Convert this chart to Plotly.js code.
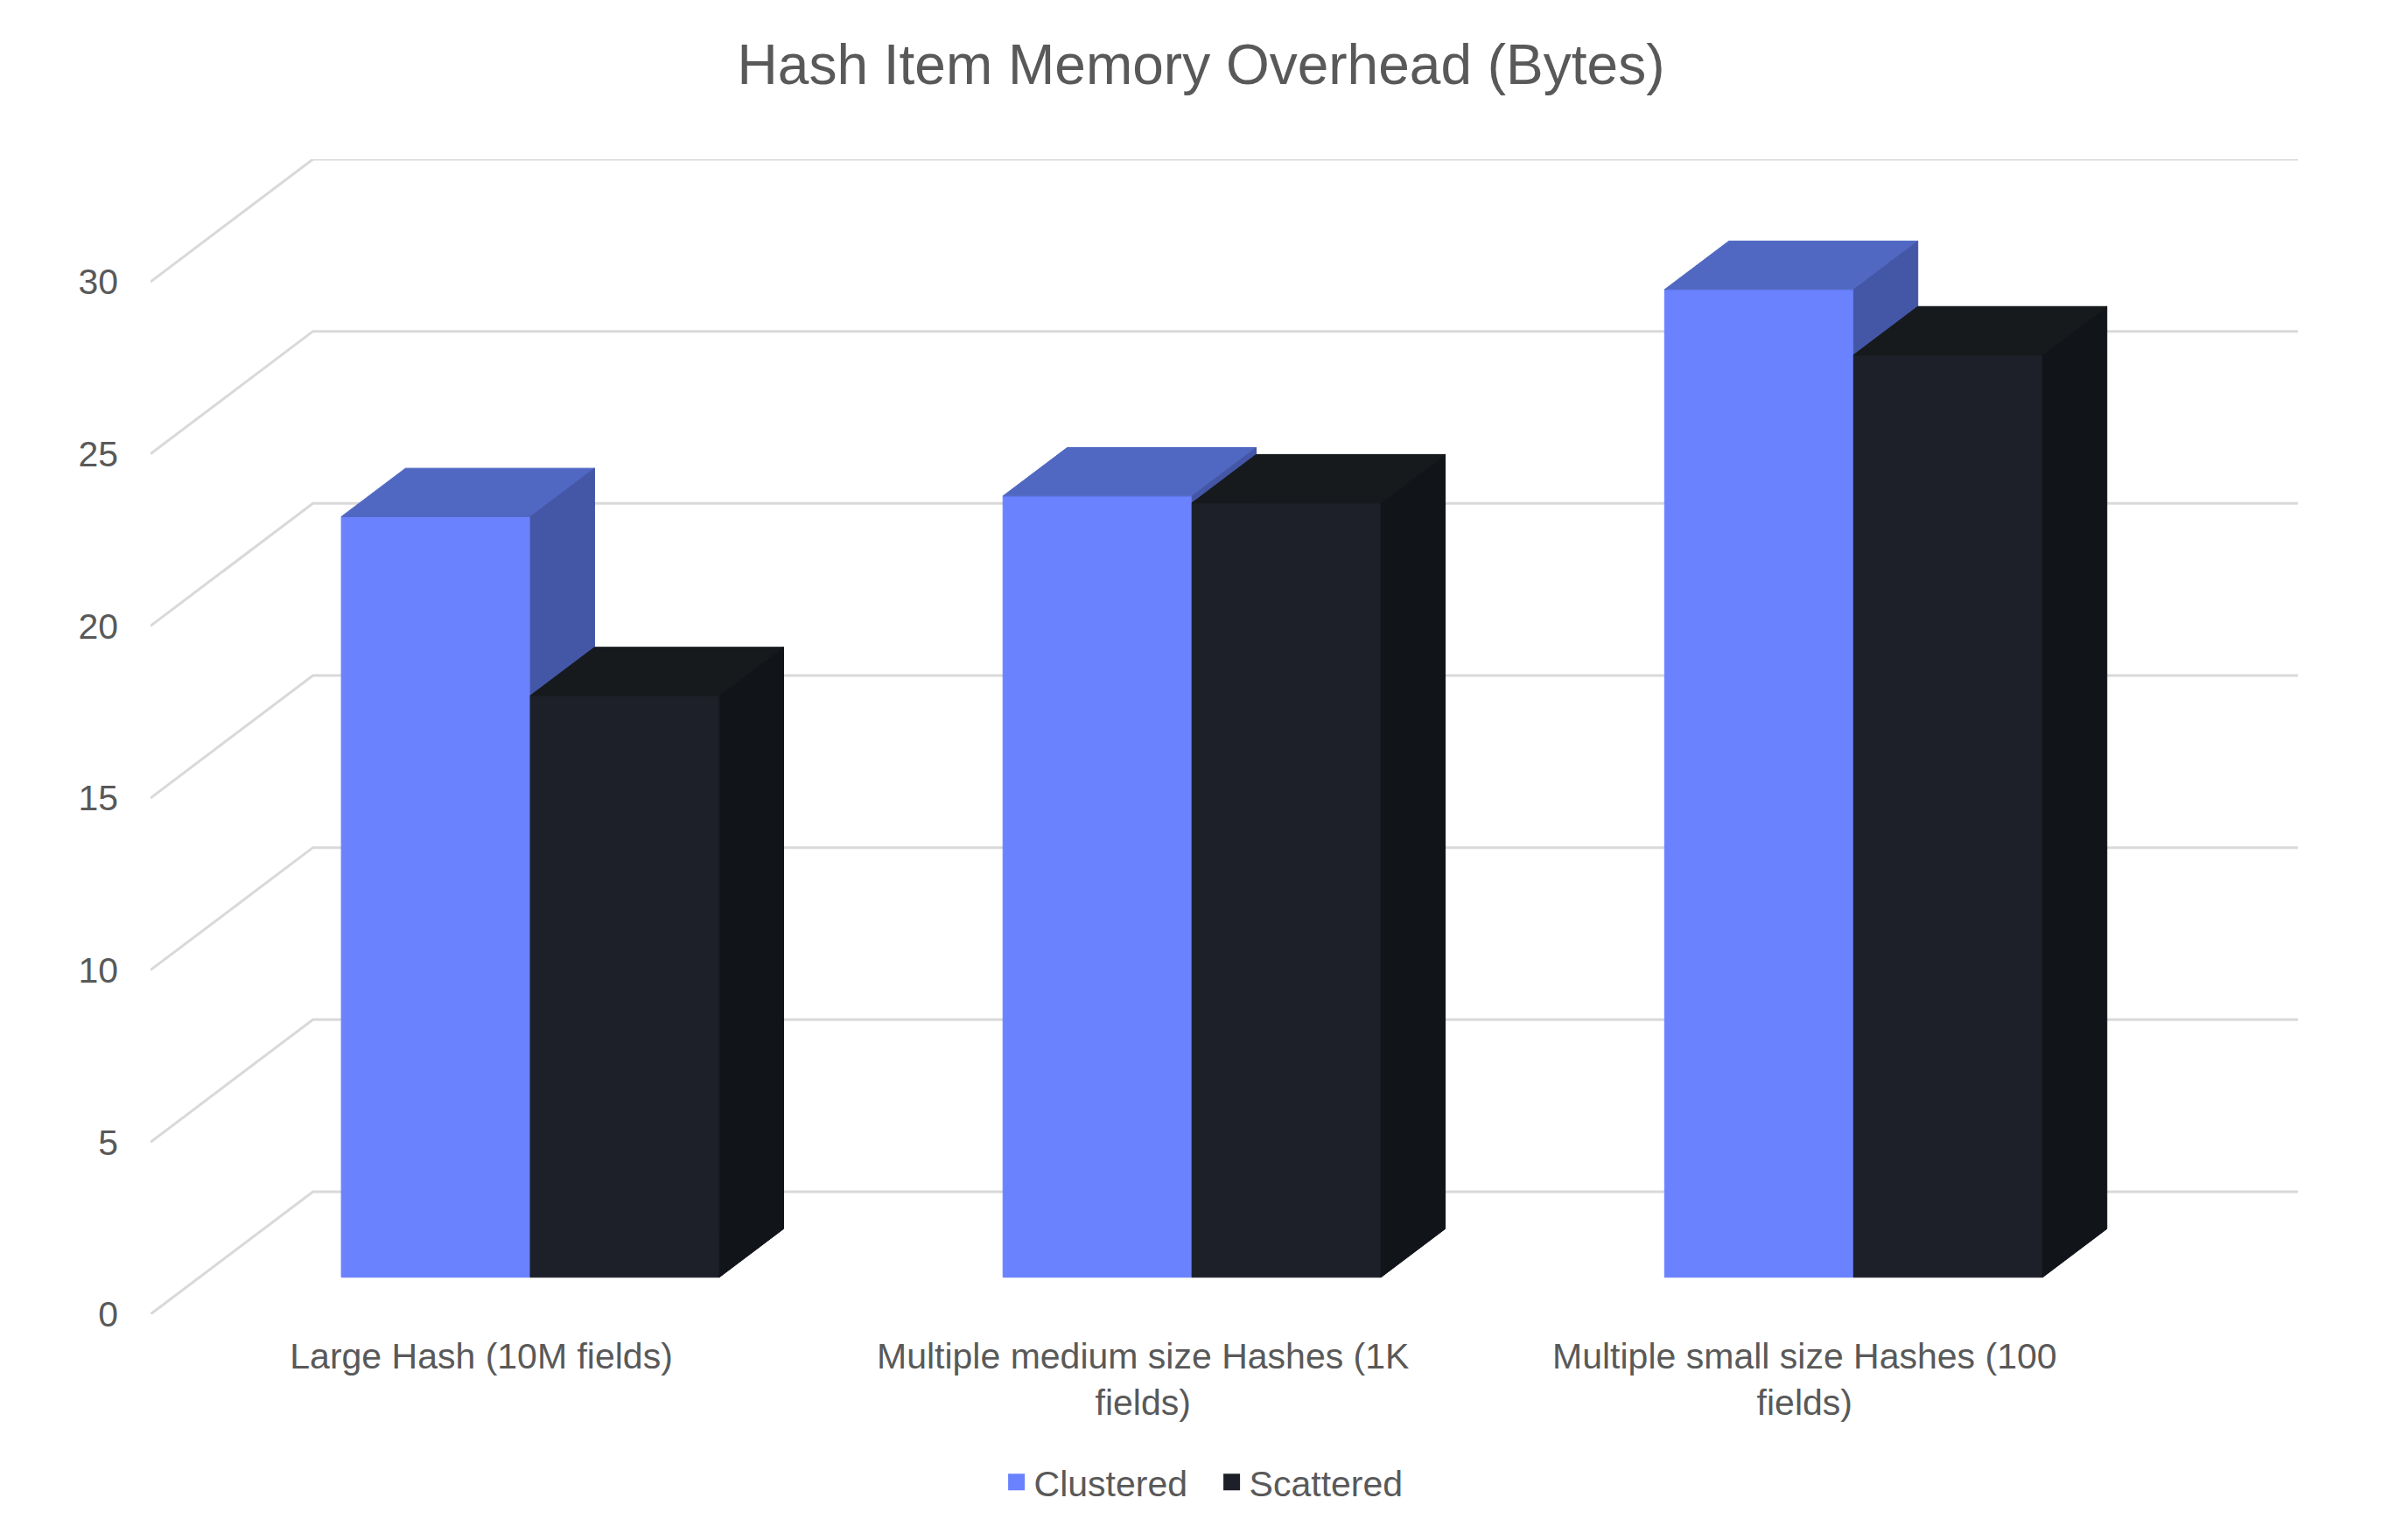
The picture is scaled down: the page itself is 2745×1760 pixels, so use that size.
<!DOCTYPE html>
<html>
<head>
<meta charset="utf-8">
<script src="https://cdn.plot.ly/plotly-3.0.1.min.js"></script>
<style>html,body{margin:0;padding:0;background:#fff;}#chart{width:2745px;height:1760px;}</style>
</head>
<body>
<div id="chart"></div>
<script>
// ---- Data ----
const categories = ['Large Hash (10M fields)', 'Multiple medium size Hashes (1K fields)', 'Multiple small size Hashes (100 fields)'];
const tickLabels = ['Large Hash (10M fields)', 'Multiple medium size Hashes (1K<br>fields)', 'Multiple small size Hashes (100<br>fields)'];
const seriesNames = ['Clustered', 'Scattered'];
const clustered = [22.1, 22.7, 28.7];
const scattered = [16.9, 22.5, 26.8];
const yTicks = [0, 5, 10, 15, 20, 25, 30];

// ---- Styling / projection (not data) ----
const FONT = '"Liberation Sans", Arial, Helvetica, sans-serif';
const TXT = '#595959';
const GRID = '#d9d9d9';
const DX = 0.2455, DY = 3.56;          // full wall depth offset in axis units
const D0 = 0.302, DB = 0.395;          // bar front depth fraction, bar depth fraction
const BW = 0.2857;                     // bar width (category units)
const colors = {
  Clustered: {front: '#6a82fe', top: '#5068c2', side: '#4456a6'},
  Scattered: {front: '#1d2028', top: '#161a1d', side: '#111418'}
};

const traces = [];
// back wall gridlines and left wall diagonals
const xs = categories.map((c, i) => i);
const xMin = xs[0] - 0.5, xMax = xs[xs.length - 1] + 0.5;
yTicks.forEach(v => {
  traces.push({
    x: [xMin, xMin + DX, xMax + DX], y: [v, v + DY, v + DY],
    mode: 'lines', line: {color: GRID, width: 3}, hoverinfo: 'skip', showlegend: false
  });
});

function poly(px, py, color) {
  traces.push({
    x: px.concat([px[0]]), y: py.concat([py[0]]), mode: 'lines', fill: 'toself',
    fillcolor: color, line: {color: color, width: 1}, hoverinfo: 'skip', showlegend: false
  });
}

const series = [clustered, scattered];
xs.forEach((xc, i) => {
  series.forEach((vals, s) => {
    const name = seriesNames[s];
    const col = colors[name];
    const v = vals[i];
    const x0 = xc + D0 * DX + (s === 0 ? -BW : 0);
    const x1 = x0 + BW;
    const y0 = D0 * DY;
    const y1 = y0 + v;
    const ddx = DB * DX, ddy = DB * DY;
    // front face
    poly([x0, x1, x1, x0], [y0, y0, y1, y1], col.front);
    // top face
    poly([x0, x1, x1 + ddx, x0 + ddx], [y1, y1, y1 + ddy, y1 + ddy], col.top);
    // side face
    poly([x1, x1 + ddx, x1 + ddx, x1], [y0, y0 + ddy, y1 + ddy, y1], col.side);
  });
});

// legend entries
seriesNames.forEach(n => {
  traces.push({
    x: [null], y: [null], name: n, mode: 'markers',
    marker: {symbol: 'square', size: 20, color: colors[n].front, line: {color: colors[n].front, width: 3}},
    showlegend: true
  });
});

const layout = {
  width: 2745, height: 1760,
  paper_bgcolor: '#ffffff', plot_bgcolor: '#ffffff',
  margin: {l: 172, r: 119, t: 182, b: 258},
  font: {family: FONT, color: TXT, size: 41},
  title: {text: 'Hash Item Memory Overhead (Bytes)', font: {family: FONT, size: 64, color: TXT},
          xref: 'container', x: 0.5, xanchor: 'center', yref: 'container', y: 0.958, yanchor: 'middle'},
  xaxis: {range: [xMin, xMax + DX], tickvals: xs, ticktext: tickLabels, showgrid: false,
          zeroline: false, showline: false, ticks: '', ticklabelstandoff: 20,
          tickfont: {family: FONT, size: 41, color: TXT}, fixedrange: true},
  yaxis: {range: [0, yTicks[yTicks.length - 1] + DY], tickvals: yTicks, ticktext: yTicks.map(String),
          showgrid: false, zeroline: false, showline: false, ticks: '', ticklabelstandoff: 36,
          tickfont: {family: FONT, size: 41, color: TXT}, fixedrange: true},
  showlegend: true,
  legend: {orientation: 'h', xref: 'container', yref: 'container', x: 0.5055, xanchor: 'center',
           y: 1 - 1694 / 1760, yanchor: 'middle', font: {family: FONT, size: 41, color: TXT},
           entrywidth: 201, bgcolor: 'rgba(0,0,0,0)'}
};

Plotly.newPlot('chart', traces, layout, {staticPlot: true, displayModeBar: false});
</script>
</body>
</html>
